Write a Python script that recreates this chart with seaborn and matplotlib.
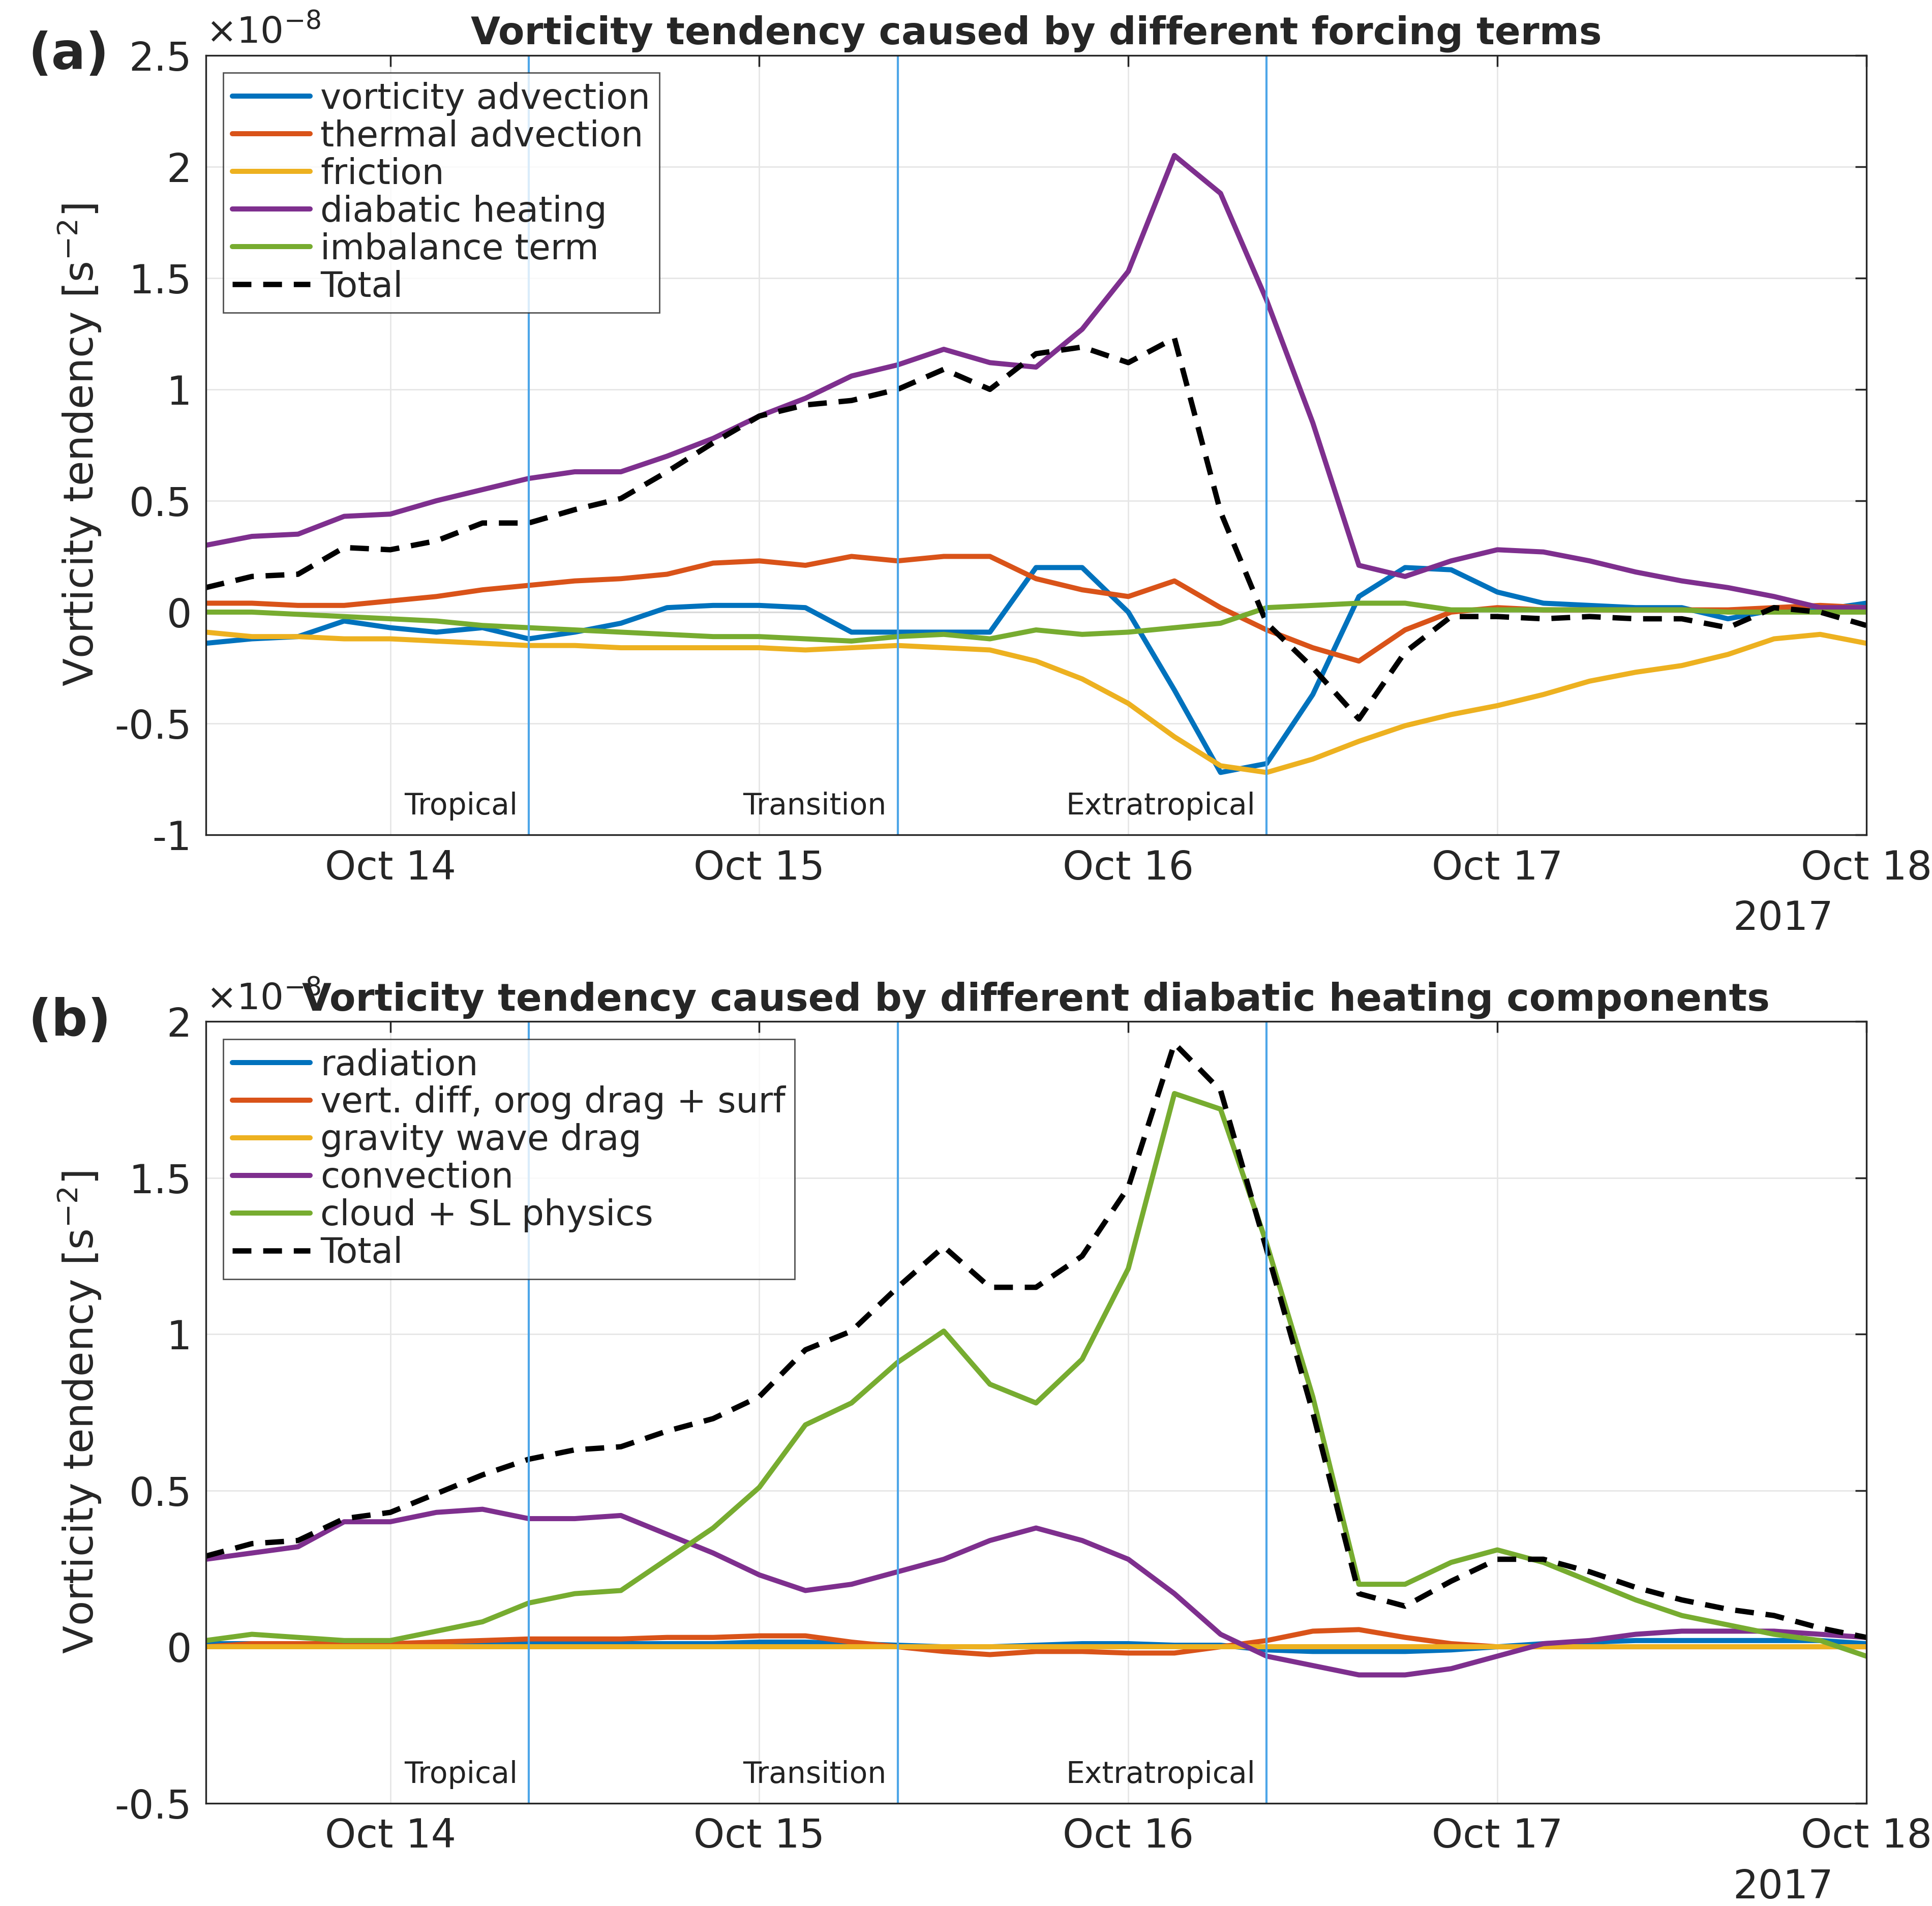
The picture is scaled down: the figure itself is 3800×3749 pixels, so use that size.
import numpy as np
import pandas as pd
import matplotlib
matplotlib.use("Agg")
import matplotlib.pyplot as plt
import seaborn as sns

sns.set_theme(style="white")
plt.rcParams['font.family'] = ['DejaVu Sans']

# time: day of October 2017, 3-hourly from Oct 13 12:00 to Oct 18 00:00
t = 13.5 + np.arange(37) * 0.125

# Panel (a) values in units of 1e-8 s^-2
vort_adv = [-0.14,-0.12,-0.11,-0.04,-0.07,-0.09,-0.07,-0.12,-0.09,-0.05,0.02,0.03,0.03,0.02,-0.09,-0.09,-0.09,-0.09,0.20,0.20,0.00,-0.35,-0.72,-0.68,-0.37,0.07,0.20,0.19,0.09,0.04,0.03,0.02,0.02,-0.03,0.01,0.01,0.04]
thermal_adv = [0.04,0.04,0.03,0.03,0.05,0.07,0.10,0.12,0.14,0.15,0.17,0.22,0.23,0.21,0.25,0.23,0.25,0.25,0.15,0.10,0.07,0.14,0.02,-0.08,-0.16,-0.22,-0.08,0.00,0.02,0.01,0.01,0.01,0.01,0.01,0.02,0.03,0.02]
friction = [-0.09,-0.11,-0.11,-0.12,-0.12,-0.13,-0.14,-0.15,-0.15,-0.16,-0.16,-0.16,-0.16,-0.17,-0.16,-0.15,-0.16,-0.17,-0.22,-0.30,-0.41,-0.56,-0.69,-0.72,-0.66,-0.58,-0.51,-0.46,-0.42,-0.37,-0.31,-0.27,-0.24,-0.19,-0.12,-0.10,-0.14]
diabatic = [0.30,0.34,0.35,0.43,0.44,0.50,0.55,0.60,0.63,0.63,0.70,0.78,0.88,0.96,1.06,1.11,1.18,1.12,1.10,1.27,1.53,2.05,1.88,1.40,0.85,0.21,0.16,0.23,0.28,0.27,0.23,0.18,0.14,0.11,0.07,0.02,0.02]
imbalance = [0.00,0.00,-0.01,-0.02,-0.03,-0.04,-0.06,-0.07,-0.08,-0.09,-0.10,-0.11,-0.11,-0.12,-0.13,-0.11,-0.10,-0.12,-0.08,-0.10,-0.09,-0.07,-0.05,0.02,0.03,0.04,0.04,0.01,0.01,0.01,0.01,0.01,0.01,0.00,0.00,0.00,0.00]
total_a = [0.11,0.16,0.17,0.29,0.28,0.32,0.40,0.40,0.46,0.51,0.63,0.76,0.88,0.93,0.95,1.00,1.09,1.00,1.16,1.19,1.12,1.23,0.45,-0.05,-0.25,-0.48,-0.18,-0.02,-0.02,-0.03,-0.02,-0.03,-0.03,-0.07,0.02,0.00,-0.06]

# Panel (b)
radiation = [0.01,0.01,0.01,0.005,0.005,0.005,0.01,0.01,0.01,0.01,0.01,0.01,0.015,0.015,0.01,0.005,0.0,0.0,0.005,0.01,0.01,0.005,0.005,-0.01,-0.015,-0.015,-0.015,-0.01,0.0,0.01,0.015,0.02,0.02,0.02,0.02,0.02,0.01]
vertdiff = [0.00,0.01,0.01,0.01,0.01,0.015,0.02,0.025,0.025,0.025,0.03,0.03,0.035,0.035,0.015,0.0,-0.015,-0.025,-0.015,-0.015,-0.02,-0.02,0.0,0.02,0.05,0.055,0.03,0.01,0.0,0.0,0.0,0.0,0.0,0.0,0.0,0.0,0.0]
gravity = [0.0]*37
convection = [0.28,0.30,0.32,0.40,0.40,0.43,0.44,0.41,0.41,0.42,0.36,0.30,0.23,0.18,0.20,0.24,0.28,0.34,0.38,0.34,0.28,0.17,0.04,-0.03,-0.06,-0.09,-0.09,-0.07,-0.03,0.01,0.02,0.04,0.05,0.05,0.05,0.04,0.03]
cloud = [0.02,0.04,0.03,0.02,0.02,0.05,0.08,0.14,0.17,0.18,0.28,0.38,0.51,0.71,0.78,0.91,1.01,0.84,0.78,0.92,1.21,1.77,1.72,1.29,0.80,0.20,0.20,0.27,0.31,0.27,0.21,0.15,0.10,0.07,0.04,0.02,-0.03]
total_b = [0.29,0.33,0.34,0.41,0.43,0.49,0.55,0.60,0.63,0.64,0.69,0.73,0.80,0.95,1.01,1.15,1.28,1.15,1.15,1.25,1.47,1.93,1.78,1.27,0.75,0.17,0.13,0.21,0.28,0.28,0.24,0.19,0.15,0.12,0.10,0.06,0.03]

phase_lines = [14.375, 15.375, 16.375]
phase_labels = ["Tropical", "Transition", "Extratropical"]
tick_days = [14, 15, 16, 17, 18]
tick_labels = ["Oct 14", "Oct 15", "Oct 16", "Oct 17", "Oct 18"]
colors = ["#0072BD", "#D95319", "#EDB120", "#7E2F8E", "#77AC30"]

fig = plt.figure(figsize=(19, 18.745), dpi=200)
axa = fig.add_axes([0.1065, 0.562, 0.8595, 0.409])
axb = fig.add_axes([0.1065, 0.054, 0.8595, 0.410])

def panel(ax, series, names, total, ylim, yticks, title, letter):
    for s, n, c in zip(series, names, colors):
        sns.lineplot(x=t, y=s, ax=ax, color=c, lw=3.6, label=n)
    sns.lineplot(x=t, y=total, ax=ax, color="black", lw=3.8, label="Total")
    ax.lines[-1].set_dashes([3.5, 2.2])
    ax.axhline(0, color="black", lw=1.0, zorder=0.5)
    for x in phase_lines:
        ax.axvline(x, color="#4DA6E8", lw=1.5)
    for x, lab in zip(phase_lines, phase_labels):
        ax.text(x - 0.03, ylim[0] + 0.018 * (ylim[1] - ylim[0]), lab, ha="right", va="bottom", fontsize=21, color="#222222")
    ax.set_xlim(13.5, 18)
    ax.set_ylim(*ylim)
    ax.set_yticks(yticks)
    ax.set_yticklabels([("%g" % v) for v in yticks], fontsize=28, color="#262626")
    ax.set_xticks(tick_days)
    ax.set_xticklabels(tick_labels, fontsize=28, color="#262626")
    ax.grid(True, color="#e6e6e6", lw=1.0)
    ax.tick_params(direction="in", length=8, top=True, right=True, pad=10)
    for sp in ax.spines.values():
        sp.set_color("#262626"); sp.set_linewidth(1.2)
    ax.set_ylabel(r"Vorticity tendency [s$^{-2}$]", fontsize=29, color="#262626", labelpad=8)
    ax.set_title(title, fontsize=27, fontweight="bold", pad=8)
    ax.text(0.0, 1.005, r"$\times$10$^{-8}$", transform=ax.transAxes, fontsize=26, ha="left", va="bottom", color="#262626")
    ax.text(-0.107, 1.0, letter, transform=ax.transAxes, fontsize=36, fontweight="bold", ha="left", va="center")
    ax.text(0.95, -0.083, "2017", transform=ax.transAxes, fontsize=28, ha="center", va="top", color="#262626")
    leg = ax.legend(loc="upper left", fontsize=25, frameon=True, fancybox=False, handlelength=2.2,
                    handletextpad=0.3, labelspacing=0.1, borderpad=0.25, borderaxespad=0.5)
    leg.get_frame().set_edgecolor("#262626"); leg.get_frame().set_linewidth(1.0)
    leg.legend_handles[-1].set_dashes([3.5, 2.2])

panel(axa, [vort_adv, thermal_adv, friction, diabatic, imbalance],
      ["vorticity advection", "thermal advection", "friction", "diabatic heating", "imbalance term"],
      total_a, (-1, 2.5), [-1, -0.5, 0, 0.5, 1, 1.5, 2, 2.5],
      "Vorticity tendency caused by different forcing terms", "(a)")
panel(axb, [radiation, vertdiff, gravity, convection, cloud],
      ["radiation", "vert. diff, orog drag + surf", "gravity wave drag", "convection", "cloud + SL physics"],
      total_b, (-0.5, 2), [-0.5, 0, 0.5, 1, 1.5, 2],
      "Vorticity tendency caused by different diabatic heating components", "(b)")

fig.savefig("out.png", dpi=200, facecolor="white")
